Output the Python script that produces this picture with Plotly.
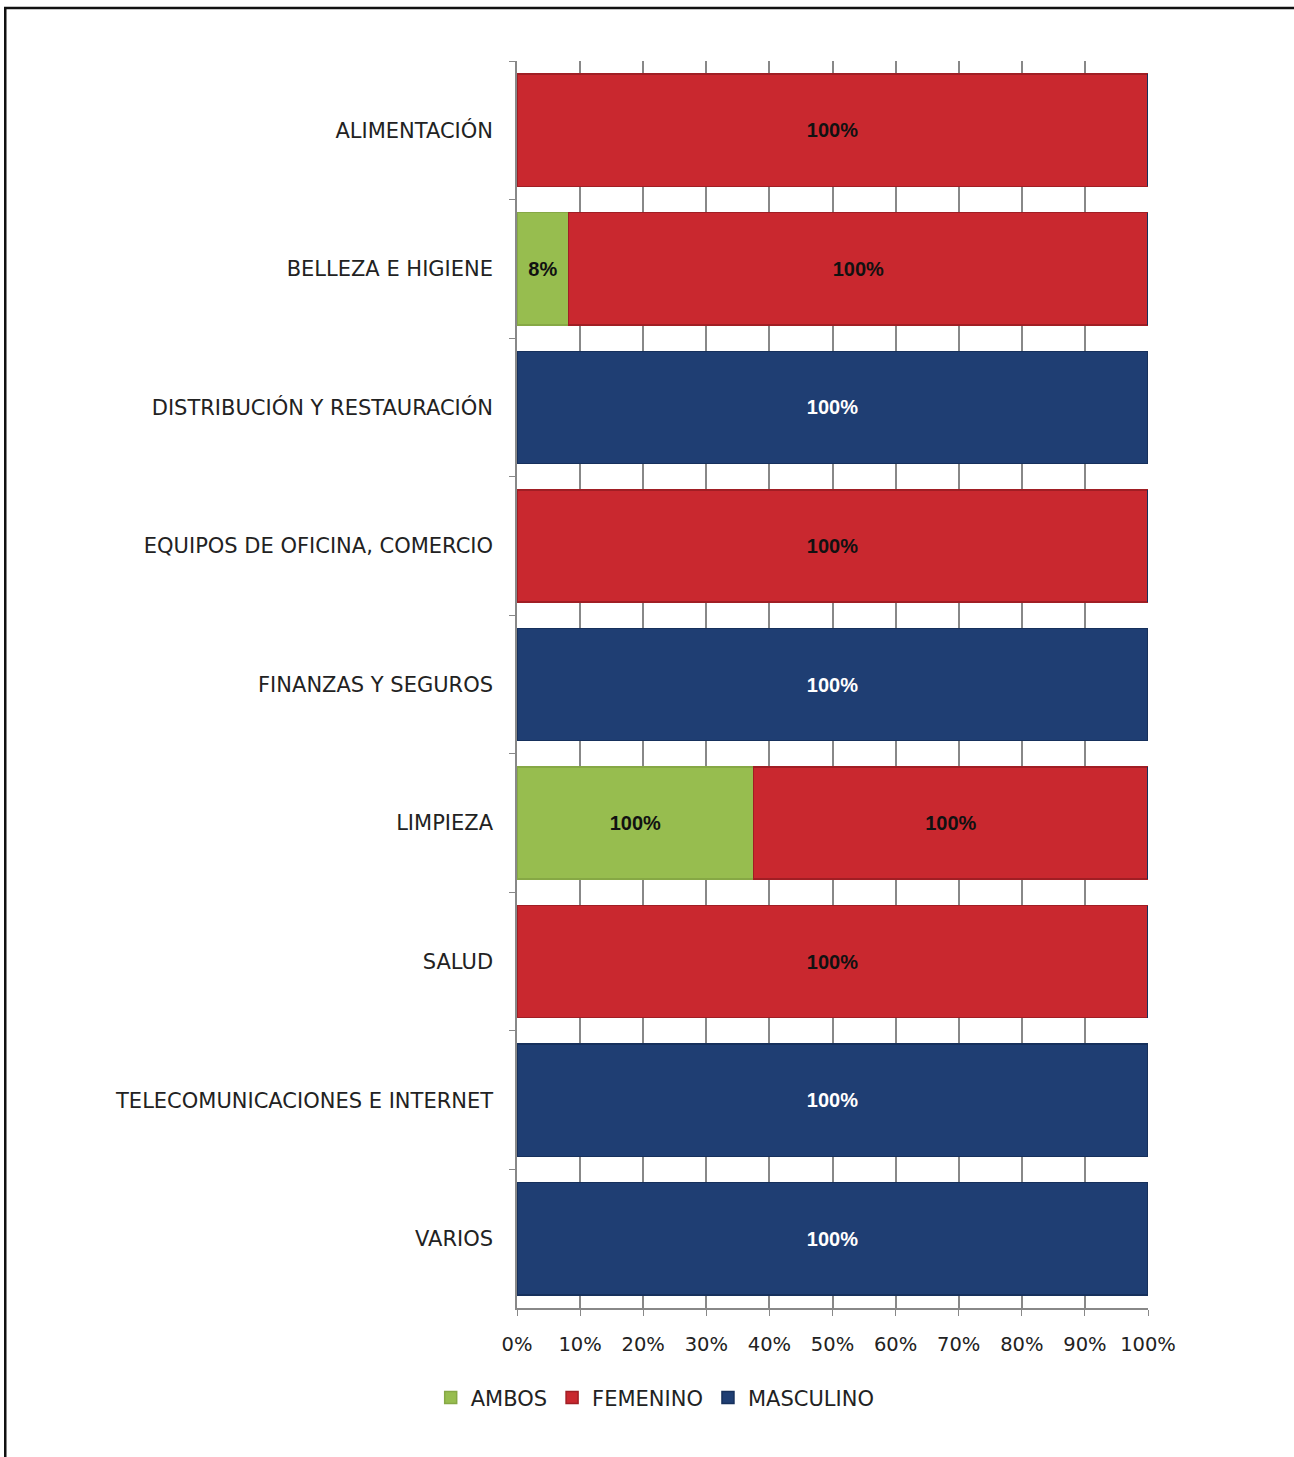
import plotly.graph_objects as go

categories = [
    "ALIMENTACIÓN",
    "BELLEZA E HIGIENE",
    "DISTRIBUCIÓN Y RESTAURACIÓN",
    "EQUIPOS DE OFICINA, COMERCIO",
    "FINANZAS Y SEGUROS",
    "LIMPIEZA",
    "SALUD",
    "TELECOMUNICACIONES E INTERNET",
    "VARIOS",
]
ambos = [0, 0.082, 0, 0, 0, 0.375, 0, 0, 0]
femenino = [1.0, 0.918, 0, 1.0, 0, 0.625, 1.0, 0, 0]
masculino = [0, 0, 1.0, 0, 1.0, 0, 0, 1.0, 1.0]
ambos_labels = ["", "8%", "", "", "", "100%", "", "", ""]
femenino_labels = ["100%", "100%", "", "100%", "", "100%", "100%", "", ""]
masculino_labels = ["", "", "100%", "", "100%", "", "", "100%", "100%"]
x_ticks = [0, 0.1, 0.2, 0.3, 0.4, 0.5, 0.6, 0.7, 0.8, 0.9, 1.0]
x_ticklabels = ["0%", "10%", "20%", "30%", "40%", "50%", "60%", "70%", "80%", "90%", "100%"]

GREEN = "#97bd4f"
RED = "#c9282f"
BLUE = "#1f3e73"
LABEL_FONT = "DejaVu Sans, Verdana, sans-serif"

fig = go.Figure()
series = [
    ("AMBOS", ambos, ambos_labels, GREEN, "#86a845", "#111111"),
    ("FEMENINO", femenino, femenino_labels, RED, "#a01e24", "#111111"),
    ("MASCULINO", masculino, masculino_labels, BLUE, "#16305c", "#ffffff"),
]
for name, vals, labels, col, edge, tcol in series:
    fig.add_trace(go.Bar(
        name=name, y=categories, x=vals, orientation="h",
        marker=dict(color=col, line=dict(color=edge, width=1.5)),
        text=labels, texttemplate="<b>%{text}</b>",
        textposition="inside", insidetextanchor="middle",
        textangle=0,
        textfont=dict(family="Liberation Sans, Arial, sans-serif", size=20, color=tcol),
        constraintext="none",
    ))

fig.update_layout(
    width=1294, height=1457,
    barmode="stack", bargap=0.19,
    paper_bgcolor="white", plot_bgcolor="white",
    margin=dict(l=517, r=146, t=61, b=149),
    font=dict(family=LABEL_FONT, size=19, color="#222222"),
    legend=dict(
        orientation="h", x=0.219, xanchor="center", y=-0.072, yanchor="middle",
        font=dict(size=21, color="#222222"), itemwidth=30,
        traceorder="normal",
    ),
    xaxis=dict(
        range=[0, 1], tickvals=x_ticks, ticktext=x_ticklabels,
        showgrid=True, gridcolor="#888888", gridwidth=1.5,
        ticks="outside", ticklen=6, tickcolor="#888888",
        showline=True, linecolor="#888888", linewidth=1.5,
        zeroline=False, fixedrange=True, ticklabelstandoff=12,
        tickfont=dict(size=19.5, color="#222222"),
    ),
    yaxis=dict(
        categoryorder="array", categoryarray=categories, autorange="reversed",
        tickson="boundaries", ticks="outside", ticklen=6, tickcolor="#888888",
        showline=True, linecolor="#888888", linewidth=1.5,
        showgrid=False, ticklabelstandoff=18,
        tickfont=dict(size=21, color="#222222"),
    ),
    showlegend=True,
)

# outer frame of the figure
fig.add_shape(type="rect", xref="paper", yref="paper",
              x0=-0.811, y0=-0.13, x1=1.25, y1=1.0425,
              line=dict(color="#111111", width=2.5), layer="below")

fig.write_html("out.html")
